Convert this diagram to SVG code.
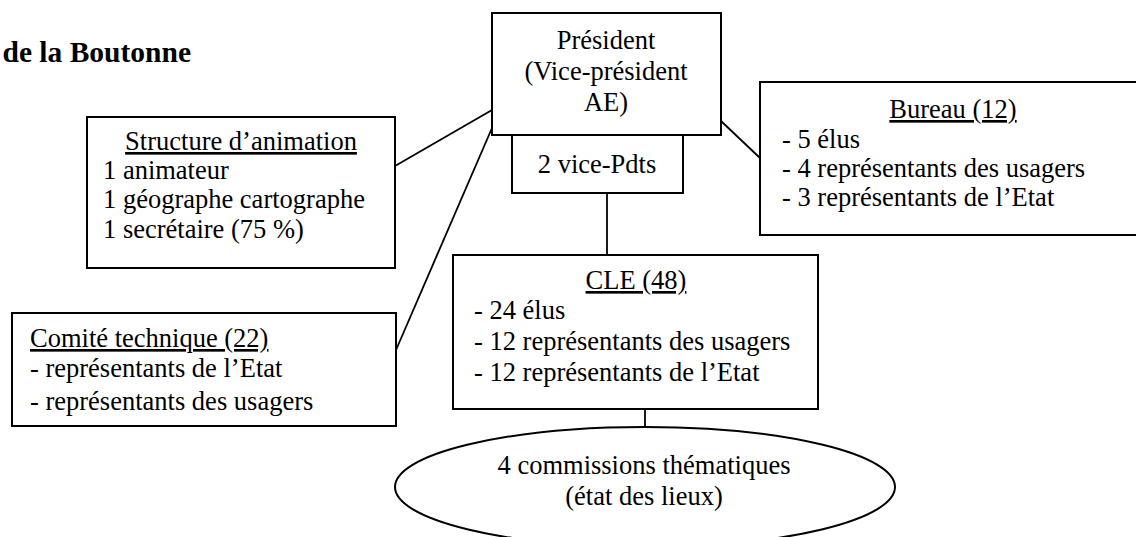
<svg xmlns="http://www.w3.org/2000/svg" width="1136" height="537" viewBox="0 0 1136 537" font-family="'Liberation Serif', Tinos, 'Times New Roman', 'DejaVu Serif', serif">
  <style>
    .box { fill: #fff; stroke: #000; stroke-width: 2; }
    .link { fill: none; stroke: #000; stroke-width: 1.8; }
    text { font-family: 'Liberation Serif', Tinos, 'Times New Roman', 'DejaVu Serif', serif; font-size: 26.5px; fill: #000; }
    .c { text-anchor: middle; }
    .u { text-decoration: underline; }
    .title { font-weight: bold; font-size: 29.5px; text-anchor: end; }
  </style>
  <rect width="1136" height="537" fill="#fff"/>

  <text class="title" x="191" y="62">de la Boutonne</text>

  <!-- connectors -->
  <g id="connectors">
    <line class="link" x1="395" y1="166" x2="492" y2="110"/>
    <line class="link" x1="492" y1="128" x2="396" y2="350"/>
    <line class="link" x1="721" y1="121" x2="760" y2="158"/>
    <line class="link" x1="607" y1="193" x2="607" y2="255"/>
    <line class="link" x1="645" y1="409" x2="645" y2="427"/>
  </g>

  <g id="president">
    <rect class="box" x="492" y="13" width="229" height="122"/>
    <text class="c" x="606" y="49">Président</text>
    <text class="c" x="606" y="80">(Vice-président</text>
    <text class="c" x="606" y="111">AE)</text>
  </g>

  <g id="vice-pdts">
    <rect class="box" x="512" y="135" width="171" height="58"/>
    <text class="c" x="597" y="173">2 vice-Pdts</text>
  </g>

  <g id="structure-animation">
    <rect class="box" x="87" y="117" width="308" height="151"/>
    <text class="c u" x="241" y="150">Structure d’animation</text>
    <text x="103" y="179">1 animateur</text>
    <text x="103" y="208">1 géographe cartographe</text>
    <text x="103" y="238">1 secrétaire (75 %)</text>
  </g>

  <g id="bureau">
    <rect class="box" x="760" y="82" width="390" height="153"/>
    <text class="c u" x="953" y="118">Bureau (12)</text>
    <text x="782" y="148">- 5 élus</text>
    <text x="782" y="177">- 4 représentants des usagers</text>
    <text x="782" y="206">- 3 représentants de l’Etat</text>
  </g>

  <g id="cle">
    <rect class="box" x="453" y="255" width="365" height="154"/>
    <text class="c u" x="636" y="289">CLE (48)</text>
    <text x="474" y="319">- 24 élus</text>
    <text x="474" y="350">- 12 représentants des usagers</text>
    <text x="474" y="381">- 12 représentants de l’Etat</text>
  </g>

  <g id="comite-technique">
    <rect class="box" x="12" y="313" width="384" height="113"/>
    <text class="u" x="30" y="347">Comité technique (22)</text>
    <text x="30" y="377">- représentants de l’Etat</text>
    <text x="30" y="410">- représentants des usagers</text>
  </g>

  <g id="commissions">
    <ellipse class="box" cx="645" cy="487" rx="250" ry="60"/>
    <text class="c" x="644" y="474">4 commissions thématiques</text>
    <text class="c" x="644" y="505">(état des lieux)</text>
  </g>
</svg>
